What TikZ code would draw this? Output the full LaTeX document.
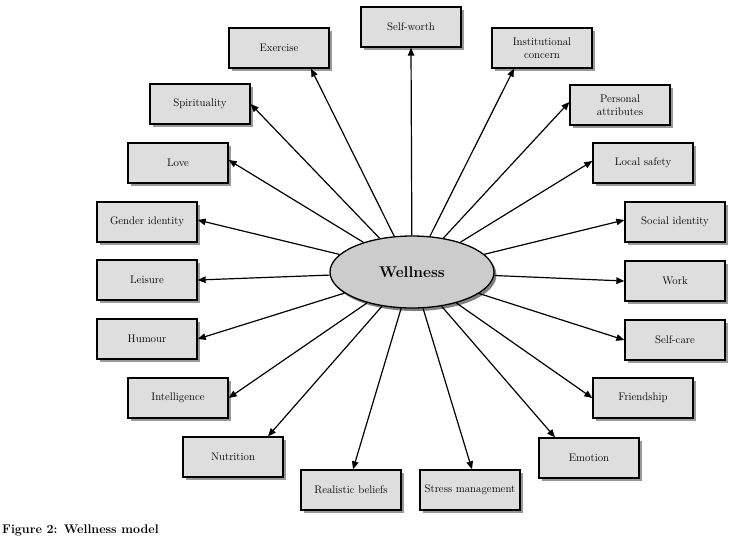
\documentclass[tikz,border=0pt]{standalone}
\usetikzlibrary{shapes.geometric,shadows,arrows.meta}
\begin{document}
\begin{tikzpicture}[x=1pt,y=-1pt,
  topic/.style={draw=black,line width=1.3pt,fill=boxgray,minimum width=100pt,minimum height=40pt,
    inner sep=0pt,align=center,font=\fontsize{11}{12.5}\selectfont,
    drop shadow={shadow xshift=2.5pt,shadow yshift=-2.5pt,fill=black!40,opacity=1}},
  hub/.style={ellipse,draw=black,line width=1.3pt,fill=hubgray,minimum width=164pt,minimum height=72pt,
    inner sep=0pt,font=\bfseries\fontsize{15.5}{18}\selectfont,
    drop shadow={shadow xshift=2.5pt,shadow yshift=-3pt,fill=black!50,opacity=1}},
  link/.style={line width=1.2pt,-{Triangle[length=8pt,width=6.5pt]}}]
\definecolor{boxgray}{HTML}{DEDEDE}
\definecolor{hubgray}{HTML}{CCCCCC}
\useasboundingbox (0,0) rectangle (731,539);
\node[hub] (w) at (412,272) {Wellness};
\node[topic] (sw) at (411,27) {Self-worth};
\node[topic] (ex) at (279,48) {Exercise};
\node[topic] (ic) at (542,48) {Institutional\\concern};
\node[topic] (sp) at (200,104) {Spirituality};
\node[topic] (pa) at (620,105) {Personal\\attributes};
\node[topic] (lo) at (178,163) {Love};
\node[topic] (ls) at (643,163) {Local safety};
\node[topic] (gi) at (147,222) {Gender identity};
\node[topic] (si) at (675,222) {Social identity};
\node[topic] (le) at (147,280) {Leisure};
\node[topic] (wo) at (675,281) {Work};
\node[topic] (hu) at (147,339) {Humour};
\node[topic] (sc) at (675,340) {Self-care};
\node[topic] (in) at (178,398) {Intelligence};
\node[topic] (fr) at (643,398) {Friendship};
\node[topic] (nu) at (233,457) {Nutrition};
\node[topic] (em) at (589,458) {Emotion};
\node[topic] (rb) at (351,490) {Realistic beliefs};
\node[topic] (sm) at (470,490) {Stress management};
\node[anchor=west,inner sep=0pt,font=\bfseries\fontsize{12.5}{14}\selectfont] (cap) at (2,530) {Figure 2: Wellness model};
\draw[link] (w) -- (sw.south);
\draw[link] (w) -- ([xshift=32pt]ex.south);
\draw[link] (w) -- ([xshift=-28pt]ic.south);
\draw[link] (w) -- (sp.east);
\draw[link] (w) -- ([yshift=3pt]pa.west);
\draw[link] (w) -- ([yshift=3pt]lo.east);
\draw[link] (w) -- ([yshift=2pt]ls.west);
\draw[link] (w) -- ([yshift=2pt]gi.east);
\draw[link] (w) -- ([yshift=2pt]si.west);
\draw[link] (w) -- (le.east);
\draw[link] (w) -- (wo.west);
\draw[link] (w) -- (hu.east);
\draw[link] (w) -- (sc.west);
\draw[link] (w) -- (in.east);
\draw[link] (w) -- (fr.west);
\draw[link] (w) -- ([xshift=35pt]nu.north);
\draw[link] (w) -- ([xshift=-34pt]em.north);
\draw[link] (w) -- ([xshift=2pt]rb.north);
\draw[link] (w) -- ([xshift=2pt]sm.north);
\end{tikzpicture}
\end{document}
